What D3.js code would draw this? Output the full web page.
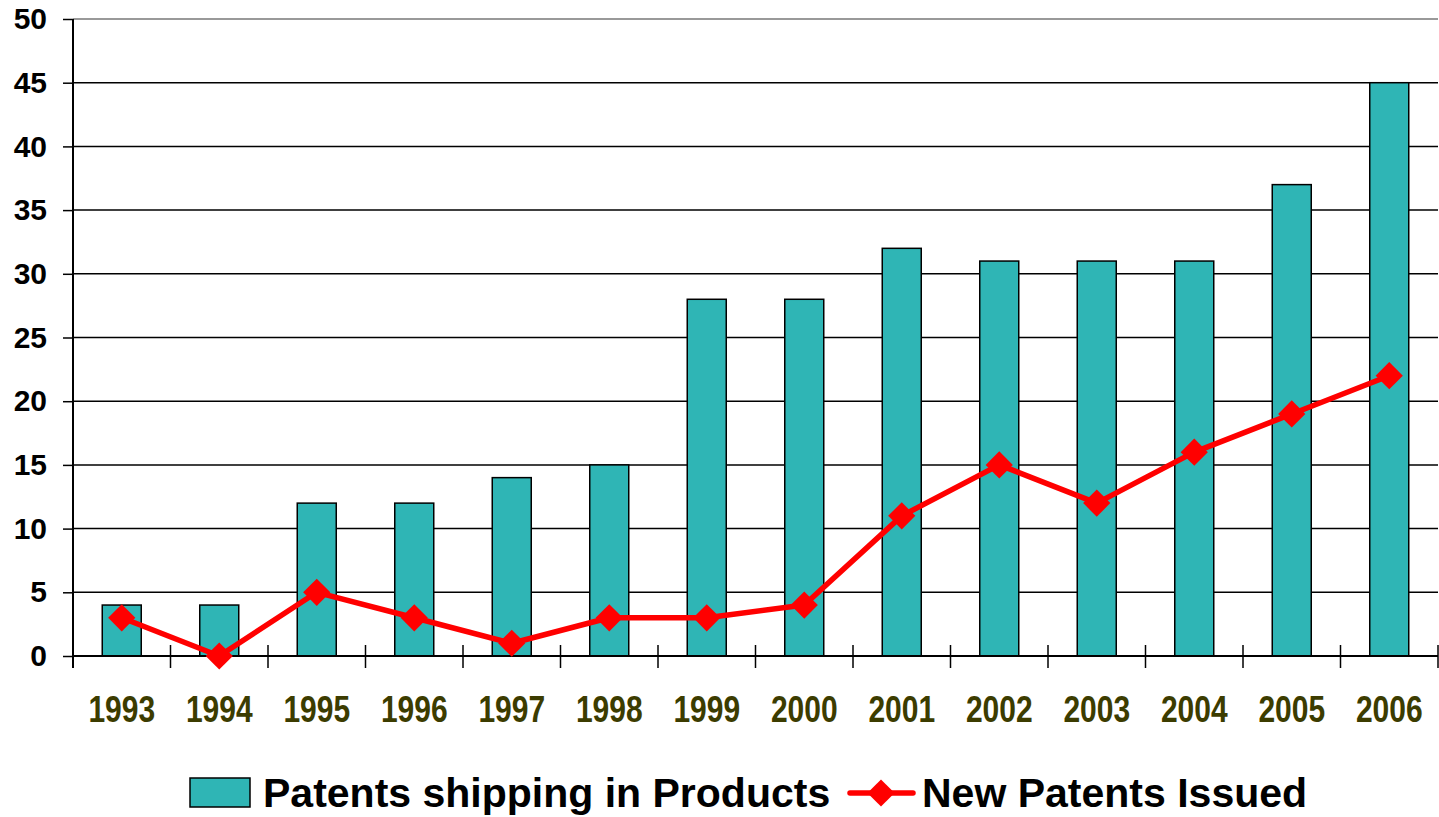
<!DOCTYPE html>
<html>
<head>
<meta charset="utf-8">
<script src="https://cdn.jsdelivr.net/npm/d3@7"></script>
<style>
  body { margin: 0; background: #fff; }
  svg { display: block; font-family: "Liberation Sans", Arial, sans-serif; font-weight: bold; }
</style>
</head>
<body>
<svg id="chart" width="1439" height="817"></svg>
<script>
// values
var years = ["1993", "1994", "1995", "1996", "1997", "1998", "1999",
             "2000", "2001", "2002", "2003", "2004", "2005", "2006"];
var shipping = [4, 4, 12, 12, 14, 15, 28, 28, 32, 31, 31, 31, 37, 45];
var issued = [3, 0, 5, 3, 1, 3, 3, 4, 11, 15, 12, 16, 19, 22];
var yTicks = [0, 5, 10, 15, 20, 25, 30, 35, 40, 45, 50];

var svg = d3.select("#chart");

var margins = { top: 19, left: 73, right: 1, bottom: 161 };
var width = +svg.attr("width") - margins.left - margins.right;
var height = +svg.attr("height") - margins.top - margins.bottom;

var barColor = "#2fb5b5";
var lineColor = "#ff0000";
var markerSize = 370;

var x = d3.scaleBand()
    .domain(years)
    .range([0, width])
    .paddingInner(0)
    .paddingOuter(0);

var y = d3.scaleLinear()
    .domain([0, 50])
    .range([height, 0]);

var g = svg.append("g")
    .attr("transform", "translate(" + margins.left + "," + margins.top + ")");

// gridlines
g.selectAll(".grid")
    .data(yTicks.filter(d => d > 0))
    .enter().append("line")
    .attr("class", "grid")
    .attr("x1", 0)
    .attr("x2", width)
    .attr("y1", d => y(d))
    .attr("y2", d => y(d))
    .attr("stroke", d => d === 50 ? "#777" : "#000")
    .attr("stroke-width", 1.5);

// y axis
var yAxis = g.append("g")
    .call(d3.axisLeft(y).tickValues(yTicks).tickSize(10).tickPadding(16));
yAxis.select(".domain").attr("stroke", "#000").attr("stroke-width", 2)
    .attr("d", "M0," + y(50) + "V" + height);
yAxis.selectAll(".tick line").attr("stroke-width", 1.5);
yAxis.selectAll(".tick text")
    .attr("font-size", 30)
    .attr("font-weight", "bold")
    .attr("font-family", "Liberation Sans, Arial, sans-serif")
    .attr("fill", "#000");

// bars
var barW = x.bandwidth() * 0.4;
g.selectAll(".bar")
    .data(years)
    .enter().append("rect")
    .attr("class", "bar")
    .attr("x", (d) => x(d) + (x.bandwidth() - barW) / 2)
    .attr("y", (d, i) => y(shipping[i]))
    .attr("width", barW)
    .attr("height", (d, i) => height - y(shipping[i]))
    .attr("fill", barColor)
    .attr("stroke", "#000")
    .attr("stroke-width", 1.5);

// x axis line + ticks at band edges
g.append("line")
    .attr("x1", 0).attr("x2", width)
    .attr("y1", height).attr("y2", height)
    .attr("stroke", "#000").attr("stroke-width", 2);

var edges = years.map(d => x(d)).concat([width]);
g.selectAll(".xtick")
    .data(edges.slice(1))
    .enter().append("line")
    .attr("class", "xtick")
    .attr("x1", d => d).attr("x2", d => d)
    .attr("y1", height - 11).attr("y2", height + 12)
    .attr("stroke", "#000").attr("stroke-width", 1.5);
g.append("line")
    .attr("x1", 0).attr("x2", 0)
    .attr("y1", height).attr("y2", height + 12)
    .attr("stroke", "#000").attr("stroke-width", 2);

g.selectAll(".xlabel")
    .data(years)
    .enter().append("text")
    .attr("class", "xlabel")
    .attr("text-anchor", "middle")
    .attr("transform", d => "translate(" + (x(d) + x.bandwidth() / 2) + "," + (height + 66) + ") scale(1,1.25)")
    .attr("font-size", 30)
    .attr("fill", "#3c3c00")
    .text(d => d);

// line series
var line = d3.line()
    .x((d, i) => x(years[i]) + x.bandwidth() / 2)
    .y(d => y(d));

g.append("path")
    .datum(issued)
    .attr("d", line)
    .attr("fill", "none")
    .attr("stroke", lineColor)
    .attr("stroke-width", 5.5)
    .attr("stroke-linejoin", "round");

g.selectAll(".marker")
    .data(issued)
    .enter().append("path")
    .attr("class", "marker")
    .attr("transform", (d, i) => "translate(" + (x(years[i]) + x.bandwidth() / 2) + "," + y(d) + ") rotate(45)")
    .attr("d", d3.symbol().type(d3.symbolSquare).size(markerSize))
    .attr("fill", lineColor);

// legend
var legend = svg.append("g");
legend.append("rect")
    .attr("x", 190).attr("y", 778)
    .attr("width", 60).attr("height", 29)
    .attr("fill", barColor)
    .attr("stroke", "#000").attr("stroke-width", 1.5);
legend.append("text")
    .attr("x", 263).attr("y", 807)
    .attr("font-size", 41)
    .attr("fill", "#000")
    .text("Patents shipping in Products");

legend.append("line")
    .attr("x1", 850).attr("x2", 913)
    .attr("y1", 793).attr("y2", 793)
    .attr("stroke", lineColor).attr("stroke-width", 5.5)
    .attr("stroke-linecap", "round");
legend.append("path")
    .attr("transform", "translate(881,793) rotate(45)")
    .attr("d", d3.symbol().type(d3.symbolSquare).size(markerSize))
    .attr("fill", lineColor);
legend.append("text")
    .attr("x", 922).attr("y", 807)
    .attr("font-size", 41)
    .attr("fill", "#000")
    .text("New Patents Issued");
</script>
</body>
</html>
